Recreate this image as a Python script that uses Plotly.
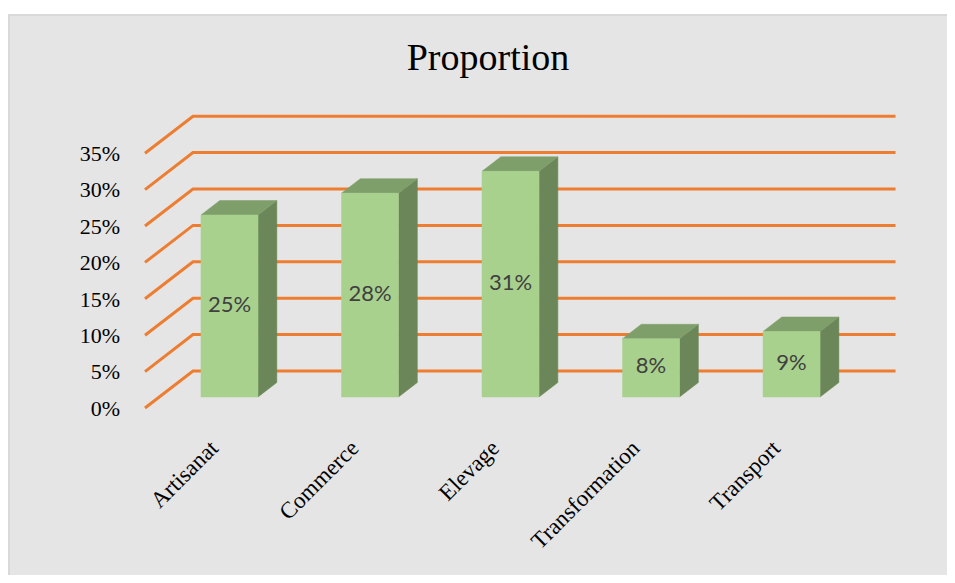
import plotly.graph_objects as go

# ---- data ----
categories = ["Artisanat", "Commerce", "Elevage", "Transformation", "Transport"]
values = [25, 28, 31, 8, 9]
value_labels = ["25%", "28%", "31%", "8%", "9%"]
tick_values = [0, 5, 10, 15, 20, 25, 30, 35]
tick_labels = ["0%", "5%", "10%", "15%", "20%", "25%", "30%", "35%"]
title_text = "Proportion"

# ---- styling / pseudo-3D projection constants ----
# page body has an 8px margin, so the figure is offset by 8px inside the window
W, H = 947, 567
L_M, R_M, T_M, B_M = 127, 20, 92, 155
PW, PH = W - L_M - R_M, H - T_M - B_M
X_RANGE = [-0.6726, 5.021]
Y_RANGE = [-3.159, 40.80]
DXU = 0.3416      # x shift for full wall depth (category units)
DYU = 5.082       # y shift for full wall depth (value units)
D_FRONT = 0.297   # depth of bar front face
D_BACK = 0.689    # depth of bar back face
HALF_W = 0.203    # half bar width
FRONT_C = "#A9D18E"
SIDE_C = "#6B8659"
TOP_C = "#7F9F6A"
GRID_C = "#ED7D31"
BG = "#E5E5E5"


def proj(idx, v, d):
    return idx + (d - D_FRONT) * DXU, v + (d - D_FRONT) * DYU


fig = go.Figure()

# gridlines on side wall + back wall
gx, gy = [], []
left_edge, right_edge = -0.5, len(categories) - 0.5
for t in tick_values:
    for (i, d) in [(left_edge, 0), (left_edge, 1), (right_edge, 1)]:
        px, py = proj(i, t, d)
        gx.append(px)
        gy.append(py)
    gx.append(None)
    gy.append(None)
fig.add_trace(go.Scatter(x=gx, y=gy, mode="lines", line=dict(color=GRID_C, width=3),
                         hoverinfo="skip", showlegend=False))

ddx = (D_BACK - D_FRONT) * DXU
ddy = (D_BACK - D_FRONT) * DYU
for i, v in enumerate(values):
    # side face
    xs = [i + HALF_W, i + HALF_W, i + HALF_W + ddx, i + HALF_W + ddx, i + HALF_W]
    ys = [0, v, v + ddy, ddy, 0]
    fig.add_trace(go.Scatter(x=xs, y=ys, fill="toself", fillcolor=SIDE_C, mode="lines",
                             line=dict(color=SIDE_C, width=0.5), hoverinfo="skip", showlegend=False))
    # top face
    xs = [i - HALF_W, i + HALF_W, i + HALF_W + ddx, i - HALF_W + ddx, i - HALF_W]
    ys = [v, v, v + ddy, v + ddy, v]
    fig.add_trace(go.Scatter(x=xs, y=ys, fill="toself", fillcolor=TOP_C, mode="lines",
                             line=dict(color=TOP_C, width=0.5), hoverinfo="skip", showlegend=False))
    # front face
    xs = [i - HALF_W, i + HALF_W, i + HALF_W, i - HALF_W, i - HALF_W]
    ys = [0, 0, v, v, 0]
    fig.add_trace(go.Scatter(x=xs, y=ys, fill="toself", fillcolor=FRONT_C, mode="lines",
                             line=dict(color=FRONT_C, width=0.5), name=categories[i],
                             showlegend=False))

# data labels
fig.add_trace(go.Scatter(x=list(range(len(categories))), y=[v / 2 for v in values],
                         mode="text", text=value_labels,
                         textfont=dict(family="Lato", size=22, color="#404040"),
                         hoverinfo="skip", showlegend=False))

# dummy trace to create the overlay axes for tick labels
fig.add_trace(go.Scatter(x=[0], y=[0], xaxis="x2", yaxis="y2", mode="markers",
                         marker=dict(opacity=0), hoverinfo="skip", showlegend=False))

XSHIFT = D_FRONT * DXU + 0.028
fig.update_layout(
    width=W, height=H,
    margin=dict(l=L_M, r=R_M, t=T_M, b=B_M),
    paper_bgcolor=BG,
    plot_bgcolor="rgba(0,0,0,0)",
    title=dict(text=title_text, x=480 / W, xanchor="center", y=1 - 49 / H, yanchor="middle",
               font=dict(family="Liberation Serif", size=38, color="black")),
    xaxis=dict(range=X_RANGE, visible=False, fixedrange=True),
    yaxis=dict(range=Y_RANGE, visible=False, fixedrange=True),
    xaxis2=dict(range=[X_RANGE[0] + XSHIFT, X_RANGE[1] + XSHIFT],
                overlaying="x", anchor="y2", side="bottom",
                tickvals=list(range(len(categories))), ticktext=categories,
                tickangle=-45, showgrid=False, zeroline=False, showline=False, ticks="",
                ticklabelstandoff=9,
                tickfont=dict(family="Liberation Serif", size=23, color="black")),
    yaxis2=dict(range=[Y_RANGE[0] + D_FRONT * DYU, Y_RANGE[1] + D_FRONT * DYU],
                overlaying="y", anchor="x2", side="left",
                tickvals=tick_values, ticktext=tick_labels,
                showgrid=False, zeroline=False, showline=False, ticks="",
                ticklabelstandoff=14,
                tickfont=dict(family="Liberation Serif", size=22, color="black")),
    shapes=[
        # white strip above the chart border
        dict(type="rect", xref="paper", yref="paper",
             x0=-L_M / PW, x1=(W - L_M + 10) / PW,
             y0=(PH + T_M - 6) / PH, y1=(PH + T_M + 10) / PH,
             fillcolor="white", line=dict(width=0), layer="below"),
        # chart border (left and top)
        dict(type="line", xref="paper", yref="paper",
             x0=(1 - L_M) / PW, x1=(1 - L_M) / PW,
             y0=-(B_M + 10) / PH, y1=(PH + T_M - 6) / PH,
             line=dict(color="#D9D9D9", width=2), layer="below"),
        dict(type="line", xref="paper", yref="paper",
             x0=(1 - L_M) / PW, x1=(W - L_M + 10) / PW,
             y0=(PH + T_M - 7) / PH, y1=(PH + T_M - 7) / PH,
             line=dict(color="#D9D9D9", width=2), layer="below"),
    ],
)

fig.write_html("out.html")
